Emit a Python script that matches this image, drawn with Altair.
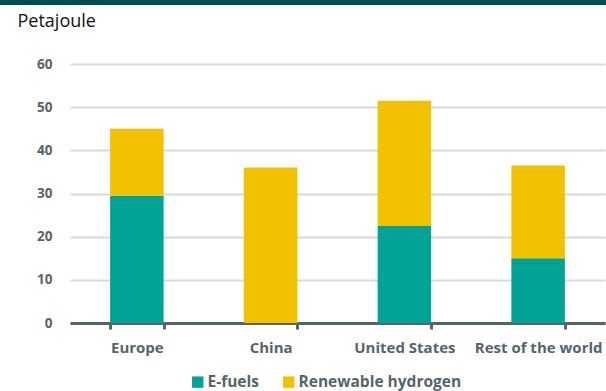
import altair as alt
import pandas as pd

regions = ["Europe", "China", "United States", "Rest of the world"]
efuels = [29.5, 0, 22.5, 15]
hydrogen = [15.5, 36, 29, 21.5]
series = ["E-fuels", "Renewable hydrogen"]
colors = ["#00A396", "#F2C100"]

rows = []
for r, e, h in zip(regions, efuels, hydrogen):
    rows.append({"region": r, "kind": series[0], "value": e, "rank": 0})
    rows.append({"region": r, "kind": series[1], "value": h, "rank": 1})
df = pd.DataFrame(rows)

FONT = "Open Sans"
GREY = "#56646B"

bars = alt.Chart(df).mark_bar().encode(
    x=alt.X(
        "region:N",
        sort=regions,
        scale=alt.Scale(paddingInner=0.6, paddingOuter=0.3),
        axis=alt.Axis(
            title=None,
            labelAngle=0,
            labelFont=FONT,
            labelFontSize=15,
            labelFontWeight="bold",
            labelColor=GREY,
            labelPadding=11,
            domainColor=GREY,
            domainWidth=3,
            tickColor=GREY,
            tickWidth=3,
            tickSize=6,
            tickBand="extent",
        ),
    ),
    y=alt.Y(
        "value:Q",
        stack="zero",
        scale=alt.Scale(domain=[0, 60]),
        axis=alt.Axis(
            values=[0, 10, 20, 30, 40, 50, 60],
            title="Petajoule",
            titleAngle=0,
            titleAlign="left",
            titleBaseline="alphabetic",
            titleX=-53,
            titleY=-38,
            titleFont=FONT,
            titleFontSize=18,
            titleFontWeight="normal",
            titleColor="#111111",
            labelFont=FONT,
            labelFontSize=13.5,
            labelFontWeight="bold",
            labelColor=GREY,
            labelPadding=18,
            domain=False,
            ticks=False,
            gridColor="#D9D9D9",
            gridWidth=2,
        ),
    ),
    color=alt.Color(
        "kind:N",
        scale=alt.Scale(domain=series, range=colors),
        legend=alt.Legend(
            title=None,
            orient="none",
            direction="horizontal",
            legendX=120,
            legendY=310,
            symbolType="square",
            symbolSize=130,
            symbolStrokeWidth=0,
            labelFont=FONT,
            labelFontSize=15.5,
            labelFontWeight="bold",
            labelColor=GREY,
            labelOffset=2,
            labelLimit=400,
            columnPadding=22,
        ),
    ),
    order=alt.Order("rank:Q"),
)

band = alt.Chart(pd.DataFrame({"a": [0]})).mark_rect(color="#004B50").encode(
    x=alt.value(-70), x2=alt.value(536), y=alt.value(-64), y2=alt.value(-59)
)

chart = alt.layer(bars, band).properties(
    width=535,
    height=259,
    padding={"left": 70, "top": 64, "right": 1, "bottom": 68},
    autosize=alt.AutoSizeParams(type="none"),
).configure_view(stroke=None)

chart.save("out.html", embed_options={"renderer": "svg", "actions": False})
